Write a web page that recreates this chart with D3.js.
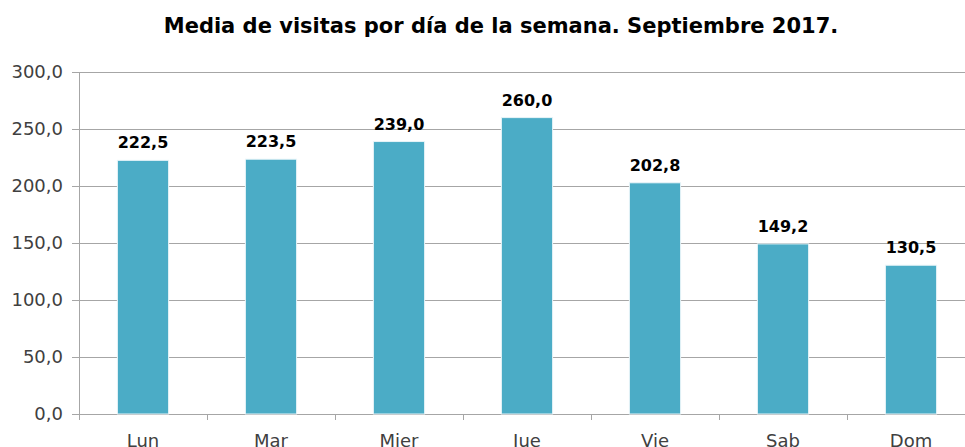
<!DOCTYPE html>
<html>
<head>
<meta charset="utf-8">
<script src="https://cdn.jsdelivr.net/npm/d3@7"></script>
<style>
  body { margin: 0; background: #fff; }
  svg { display: block; font-family: "DejaVu Sans", sans-serif; }
</style>
</head>
<body>
<svg id="chart"></svg>
<script>
const dias = ["Lun", "Mar", "Mier", "Jue", "Vie", "Sab", "Dom"];
const visitas = [222.5, 223.5, 239.0, 260.0, 202.8, 149.2, 130.5];
const yTicks = [0, 50, 100, 150, 200, 250, 300];

const width = 965, height = 447;
const marginLeft = 79, marginTop = 72, plotBottom = 414;
const plotRight = marginLeft + 128 * 7;

const fmt = v => d3.format(".1f")(v).replace(".", ",");

const svg = d3.select("#chart")
  .attr("width", width)
  .attr("height", height);

const x = d3.scaleBand()
  .domain(dias)
  .range([marginLeft, plotRight])
  .padding(0);

const y = d3.scaleLinear()
  .domain([0, 300])
  .range([plotBottom, marginTop]);

// lineas de rejilla
svg.append("g")
  .selectAll("line")
  .data(yTicks)
  .join("line")
  .attr("x1", marginLeft - 7)
  .attr("x2", width)
  .attr("y1", d => Math.round(y(d)) + 0.5)
  .attr("y2", d => Math.round(y(d)) + 0.5)
  .attr("stroke", "#a6a6a6")
  .attr("stroke-width", 1);

// eje y
svg.append("g")
  .selectAll("text")
  .data(yTicks)
  .join("text")
  .attr("x", marginLeft - 16)
  .attr("y", d => y(d))
  .attr("dy", "0.35em")
  .attr("text-anchor", "end")
  .attr("fill", "#404040")
  .attr("font-size", 18)
  .text(d => fmt(d));

svg.append("line")
  .attr("x1", marginLeft + 0.5)
  .attr("x2", marginLeft + 0.5)
  .attr("y1", marginTop)
  .attr("y2", plotBottom + 6)
  .attr("stroke", "#a6a6a6");

// marcas entre categorias
svg.append("g")
  .selectAll("line")
  .data(dias.slice(1))
  .join("line")
  .attr("x1", d => Math.round(x(d)) + 0.5)
  .attr("x2", d => Math.round(x(d)) + 0.5)
  .attr("y1", plotBottom)
  .attr("y2", plotBottom + 6)
  .attr("stroke", "#a6a6a6");

// barras
const barW = x.bandwidth() * 0.4;
svg.append("g")
  .selectAll("rect")
  .data(visitas)
  .join("rect")
  .attr("x", (d, i) => x(dias[i]) + (x.bandwidth() - barW) / 2)
  .attr("y", d => y(d))
  .attr("width", barW)
  .attr("height", d => y(0) - y(d))
  .attr("fill", "#4bacc6")
  .attr("stroke", "#e8f4f8")
  .attr("stroke-width", 1);

// etiquetas de datos
svg.append("g")
  .selectAll("text")
  .data(visitas)
  .join("text")
  .attr("x", (d, i) => x(dias[i]) + x.bandwidth() / 2)
  .attr("y", d => y(d) - 12)
  .attr("text-anchor", "middle")
  .attr("font-size", 16)
  .attr("font-weight", "bold")
  .attr("fill", "#000")
  .text(d => fmt(d));

// etiquetas de categoria
svg.append("g")
  .selectAll("text")
  .data(dias)
  .join("text")
  .attr("x", d => x(d) + x.bandwidth() / 2)
  .attr("y", plotBottom + 33)
  .attr("text-anchor", "middle")
  .attr("font-size", 18)
  .attr("fill", "#404040")
  .text(d => d);

// titulo
svg.append("text")
  .attr("x", 501)
  .attr("y", 33)
  .attr("text-anchor", "middle")
  .attr("font-size", 21)
  .attr("font-weight", "bold")
  .attr("fill", "#000")
  .text("Media de visitas por día de la semana. Septiembre 2017.");
</script>
</body>
</html>
